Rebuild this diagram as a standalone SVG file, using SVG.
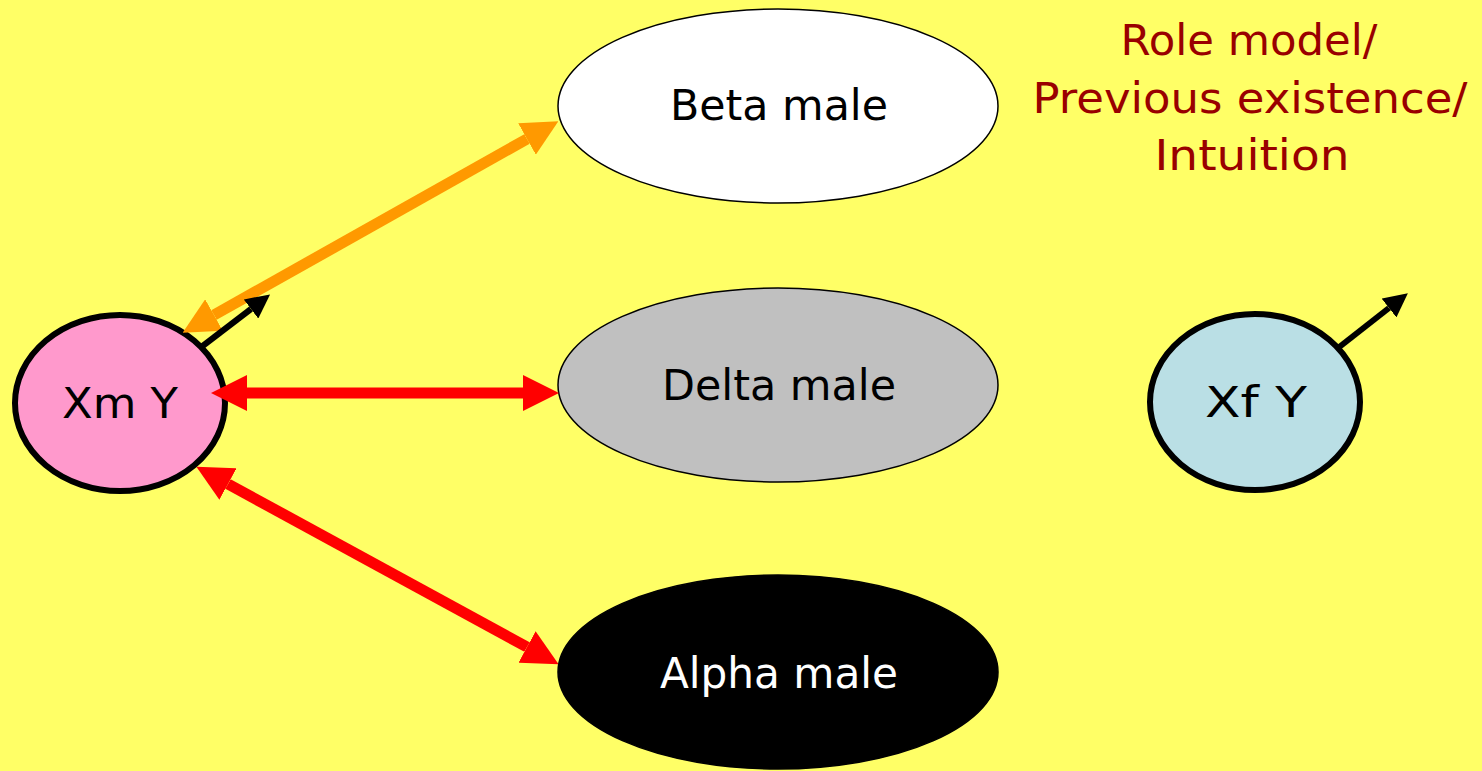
<svg xmlns="http://www.w3.org/2000/svg" width="1482" height="771" viewBox="0 0 1482 771">
<style>
.lbl{font-family:"DejaVu Sans","Liberation Sans",sans-serif;font-size:42px;text-anchor:middle;dominant-baseline:central}
.note{font-family:"DejaVu Sans","Liberation Sans",sans-serif;font-size:43px;text-anchor:middle;fill:#990000}
.c10{fill:none;stroke-width:11}
.c5{fill:none;stroke-width:6;stroke:#000}
</style>
<defs>
<marker id="hO" markerUnits="userSpaceOnUse" markerWidth="36" markerHeight="36" refX="0" refY="18" orient="auto-start-reverse" viewBox="0 0 36 36"><path d="M0,0 L36,18 L0,36 z" fill="#FF9900"/></marker>
<marker id="hR" markerUnits="userSpaceOnUse" markerWidth="36" markerHeight="36" refX="0" refY="18" orient="auto-start-reverse" viewBox="0 0 36 36"><path d="M0,0 L36,18 L0,36 z" fill="#FF0000"/></marker>
<marker id="hK" markerUnits="userSpaceOnUse" markerWidth="24" markerHeight="24" refX="0" refY="12" orient="auto" viewBox="0 0 24 24"><path d="M0,0 L24,12 L0,24 z" fill="#000"/></marker>
</defs>
<rect width="1482" height="771" fill="#FFFF66"/>
<g id="beta"><ellipse cx="778" cy="106" rx="220" ry="97" fill="#FFFFFF" stroke="#000" stroke-width="1.5"/><text class="lbl" x="779" y="105" textLength="218" lengthAdjust="spacingAndGlyphs">Beta male</text></g>
<g id="delta"><ellipse cx="778" cy="385" rx="220" ry="97" fill="#C0C0C0" stroke="#000" stroke-width="1.5"/><text class="lbl" x="779" y="385" textLength="234" lengthAdjust="spacingAndGlyphs">Delta male</text></g>
<g id="alpha"><ellipse cx="778" cy="672" rx="220" ry="97" fill="#000000" stroke="#000" stroke-width="1.5"/><text class="lbl" x="779" y="673" fill="#FFFFFF" textLength="238" lengthAdjust="spacingAndGlyphs">Alpha male</text></g>
<g id="xmy"><ellipse cx="120" cy="403" rx="105" ry="88" fill="#FF99CC" stroke="#000" stroke-width="6"/><text class="lbl" x="120" y="403" textLength="116" lengthAdjust="spacingAndGlyphs">Xm Y</text></g>
<g id="xfy"><ellipse cx="1255" cy="402" rx="105" ry="88" fill="#BADFE5" stroke="#000" stroke-width="6"/><text class="lbl" x="1256" y="402" textLength="102" lengthAdjust="spacingAndGlyphs">Xf Y</text></g>
<g id="note"><text class="note" x="1249" y="55" textLength="257" lengthAdjust="spacingAndGlyphs">Role model/</text><text class="note" x="1250" y="113" textLength="435" lengthAdjust="spacingAndGlyphs">Previous existence/</text><text class="note" x="1252" y="170" textLength="195" lengthAdjust="spacingAndGlyphs">Intuition</text></g>
<g id="connectors">
<line class="c10" stroke="#FF9900" x1="214" y1="315" x2="527" y2="139" marker-start="url(#hO)" marker-end="url(#hO)"/>
<line class="c10" stroke="#FF0000" x1="247" y1="393" x2="523" y2="393" marker-start="url(#hR)" marker-end="url(#hR)"/>
<line class="c10" stroke="#FF0000" x1="228" y1="484" x2="527" y2="647" marker-start="url(#hR)" marker-end="url(#hR)"/>
<line class="c5" x1="200" y1="348" x2="251" y2="309" marker-end="url(#hK)"/>
<line class="c5" x1="1338" y1="348" x2="1389" y2="308" marker-end="url(#hK)"/>
</g>
</svg>
